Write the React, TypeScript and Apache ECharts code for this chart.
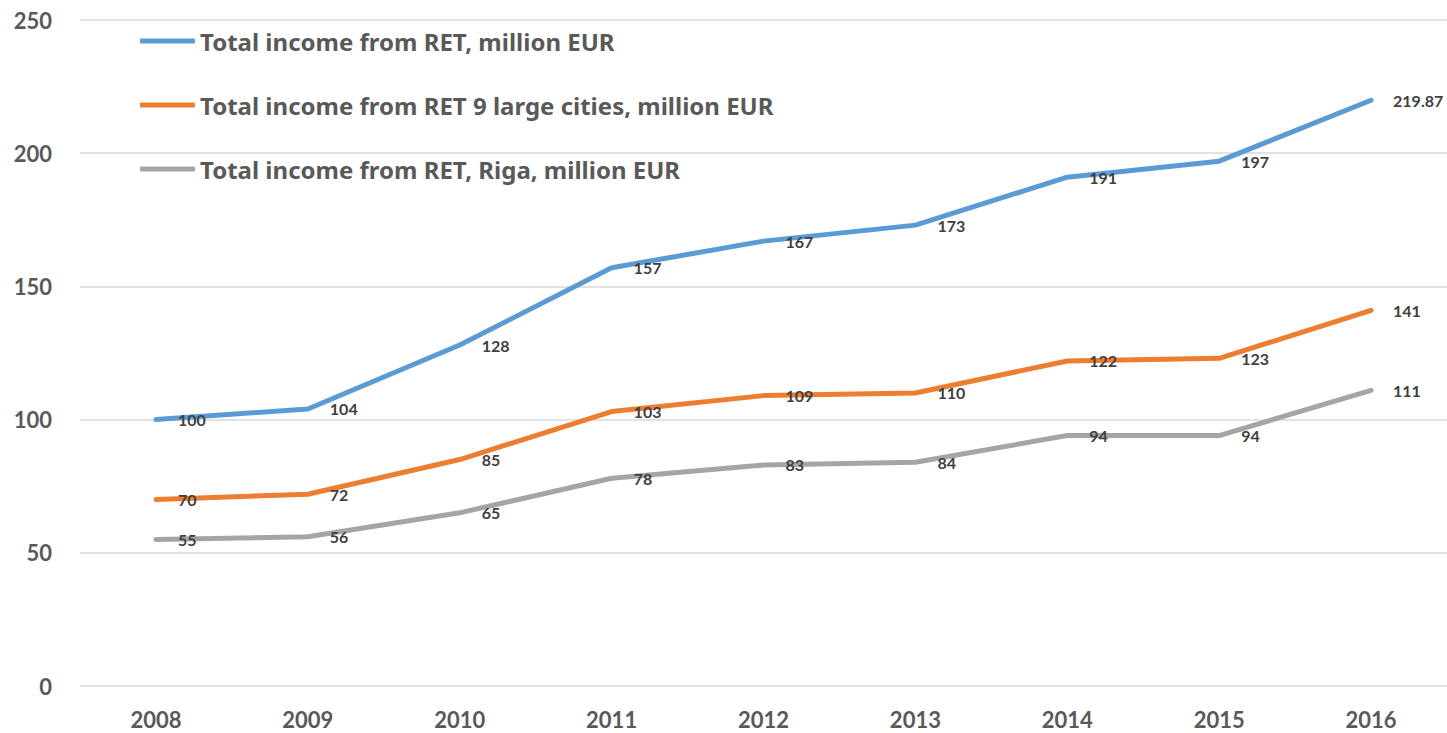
import React, { useEffect, useRef } from "react";
import * as echarts from "echarts";

const years = ["2008", "2009", "2010", "2011", "2012", "2013", "2014", "2015", "2016"];
const totalIncome = [100, 104, 128, 157, 167, 173, 191, 197, 219.87];
const largeCities = [70, 72, 85, 103, 109, 110, 122, 123, 141];
const riga = [55, 56, 65, 78, 83, 84, 94, 94, 111];

const seriesNames = [
  "Total income from RET, million EUR",
  "Total income from RET 9 large cities, million EUR",
  "Total income from RET, Riga, million EUR",
];
const colors = ["#5B9BD5", "#ED7D31", "#A5A5A5"];

const FONT = "Lato, 'Open Sans', sans-serif";
const LEGEND_FONT = "'Noto Sans', Lato, sans-serif";

export default function App() {
  const ref = useRef<HTMLDivElement>(null);
  useEffect(() => {
    if (!ref.current) return;
    const chart = echarts.init(ref.current, null, { renderer: "svg" });
    const dataSets = [totalIncome, largeCities, riga];
    chart.setOption({
      animation: false,
      backgroundColor: "#ffffff",
      grid: { left: 80, right: 0, top: 20, bottom: 47, containLabel: false },
      legend: {
        orient: "vertical",
        left: 135,
        top: 22,
        icon: "roundRect",
        itemWidth: 55,
        itemHeight: 5,
        itemGap: 36,
        data: seriesNames,
        textStyle: {
          fontFamily: LEGEND_FONT,
          fontWeight: "bold",
          fontSize: 24,
          color: "#595959",
          lineHeight: 28,
        },
      },
      xAxis: {
        type: "category",
        data: years,
        boundaryGap: true,
        axisLine: { show: false },
        axisTick: { show: false },
        axisLabel: {
          fontFamily: FONT,
          fontWeight: "bold",
          fontSize: 22,
          color: "#595959",
          margin: 22,
        },
      },
      yAxis: {
        type: "value",
        min: 0,
        max: 250,
        interval: 50,
        axisLine: { show: false },
        axisTick: { show: false },
        splitLine: { lineStyle: { color: "#D9D9D9", width: 1.5 } },
        axisLabel: {
          fontFamily: FONT,
          fontWeight: "bold",
          fontSize: 22,
          color: "#595959",
          margin: 28,
        },
      },
      series: seriesNames.map((name, i) => ({
        name,
        type: "line",
        data: dataSets[i],
        symbol: "circle",
        symbolSize: 0,
        showSymbol: true,
        color: colors[i],
        lineStyle: { width: 5, color: colors[i], cap: "round", join: "round" },
        label: {
          show: true,
          position: "right",
          distance: 22,
          offset: [0, 0],
          fontFamily: FONT,
          fontWeight: "bold",
          fontSize: 16,
          color: "#404040",
        },
      })),
    });
    return () => chart.dispose();
  }, []);
  return (
    <div
      ref={ref}
      style={{ position: "absolute", left: 0, top: 0, width: 1447, height: 733 }}
    />
  );
}
